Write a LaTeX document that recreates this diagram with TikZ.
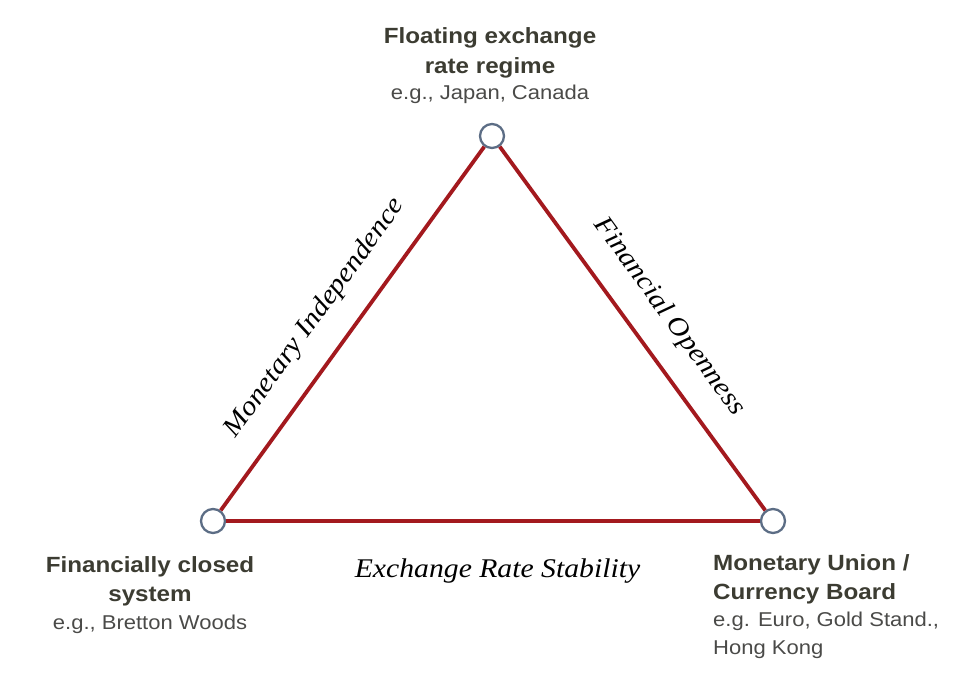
\documentclass[tikz,border=0pt]{standalone}
\usepackage{fontspec}
\setmainfont{Liberation Sans}
\newfontfamily\lblfont[FakeStretch=1.1]{Liberation Sans}
\newfontfamily\edgefont[FakeStretch=1.1]{Liberation Serif}
\definecolor{sidered}{HTML}{A3191E}
\definecolor{vtxblue}{HTML}{5C6D85}
\definecolor{headgray}{HTML}{3C3C32}
\definecolor{subgray}{HTML}{4A4A48}
\begin{document}
\begin{tikzpicture}[x=1pt,y=-1pt,
  vtx/.style={circle,draw=vtxblue,line width=2.3pt,fill=white,minimum size=24pt,inner sep=0pt},
  side/.style={draw=sidered,line width=3.8pt},
  head/.style={inner sep=0pt,text=headgray,font=\lblfont\bfseries\fontsize{22}{26}\selectfont},
  sub/.style={inner sep=0pt,text=subgray,font=\lblfont\fontsize{20}{24}\selectfont},
  edgelbl/.style={inner sep=0pt,text=black,font=\edgefont\itshape\fontsize{27}{32}\selectfont}]
\useasboundingbox (0,0) rectangle (965,689);
% vertices
\node[vtx] (top) at (492,136) {};
\node[vtx] (left) at (213,521) {};
\node[vtx] (right) at (773,521) {};
% sides
\draw[side] (left) -- (top);
\draw[side] (top) -- (right);
\draw[side] (left) -- (right);
% side labels
\node[edgelbl,rotate=54.07] (mi) at (315,318) {Monetary Independence};
\node[edgelbl,rotate=-53.9] (fo) at (669,317) {Financial Openness};
\node[edgelbl,anchor=base] (ers) at (497.5,577) {Exchange Rate Stability};
% top label
\node[head,anchor=base] (t1) at (490,43) {Floating exchange};
\node[head,anchor=base] (t2) at (490,73) {rate regime};
\node[sub,anchor=base] (t3) at (490,99) {e.g., Japan, Canada};
% left label
\node[head,anchor=base] (l1) at (150,572.5) {Financially closed};
\node[head,anchor=base] (l2) at (150,601.5) {system};
\node[sub,anchor=base] (l3) at (150,629) {e.g., Bretton Woods};
% right label
\node[head,anchor=base west] (r1) at (713,570.5) {Monetary Union /};
\node[head,anchor=base west] (r2) at (713,599) {Currency Board};
\node[sub,anchor=base west] (r3) at (713,626.5) {e.g. Euro, Gold Stand.,};
\node[sub,anchor=base west] (r4) at (713,654) {Hong Kong};
\end{tikzpicture}
\end{document}
